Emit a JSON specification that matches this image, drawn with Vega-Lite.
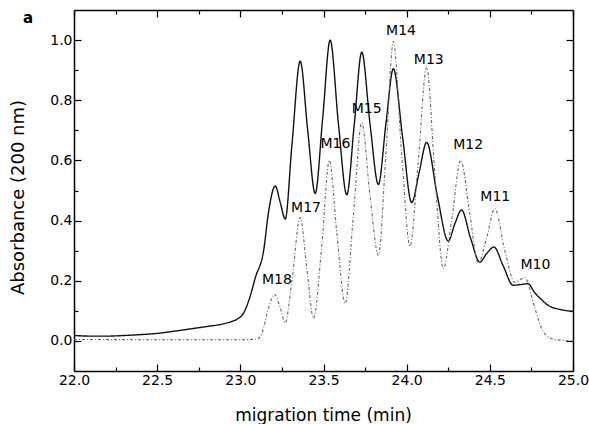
{
  "$schema": "https://vega.github.io/schema/vega-lite/v6.json",
  "width": 499,
  "height": 361,
  "autosize": {"type": "none"},
  "padding": {"left": 74, "top": 10, "right": 16, "bottom": 53},
  "background": "white",
  "title": {"text": "a", "anchor": "start", "frame": "group", "orient": "top", "offset": 0, "dx": -51, "dy": 29, "baseline": "alphabetic", "align": "left", "font": "DejaVu Sans", "fontSize": 15, "fontWeight": "bold", "color": "black"},
  "config": {
    "view": {"stroke": null},
    "axis": {"domainColor": "black", "domainWidth": 1.5, "tickColor": "black", "tickWidth": 1.2, "grid": false, "labelFont": "DejaVu Sans", "labelFontSize": 14, "labelColor": "black", "titleFont": "DejaVu Sans", "titleFontWeight": "normal", "titleColor": "black"}
  },
  "datasets": {
    "curves": [
      {"t": 22.0, "a": 0.018, "s": "solid"},
      {"t": 22.1, "a": 0.016, "s": "solid"},
      {"t": 22.2, "a": 0.016, "s": "solid"},
      {"t": 22.3, "a": 0.018, "s": "solid"},
      {"t": 22.4, "a": 0.021, "s": "solid"},
      {"t": 22.5, "a": 0.025, "s": "solid"},
      {"t": 22.6, "a": 0.032, "s": "solid"},
      {"t": 22.7, "a": 0.040, "s": "solid"},
      {"t": 22.8, "a": 0.048, "s": "solid"},
      {"t": 22.9, "a": 0.057, "s": "solid"},
      {"t": 22.95, "a": 0.065, "s": "solid"},
      {"t": 22.98, "a": 0.072, "s": "solid"},
      {"t": 23.02, "a": 0.093, "s": "solid"},
      {"t": 23.06, "a": 0.15, "s": "solid"},
      {"t": 23.09, "a": 0.21, "s": "solid"},
      {"t": 23.14, "a": 0.30, "s": "solid"},
      {"t": 23.17, "a": 0.43, "s": "solid"},
      {"t": 23.21, "a": 0.515, "s": "solid"},
      {"t": 23.24, "a": 0.46, "s": "solid"},
      {"t": 23.27, "a": 0.405, "s": "solid"},
      {"t": 23.31, "a": 0.65, "s": "solid"},
      {"t": 23.36, "a": 0.93, "s": "solid"},
      {"t": 23.405, "a": 0.70, "s": "solid"},
      {"t": 23.45, "a": 0.49, "s": "solid"},
      {"t": 23.495, "a": 0.74, "s": "solid"},
      {"t": 23.54, "a": 1.0, "s": "solid"},
      {"t": 23.59, "a": 0.72, "s": "solid"},
      {"t": 23.64, "a": 0.486, "s": "solid"},
      {"t": 23.685, "a": 0.72, "s": "solid"},
      {"t": 23.73, "a": 0.96, "s": "solid"},
      {"t": 23.78, "a": 0.72, "s": "solid"},
      {"t": 23.83, "a": 0.52, "s": "solid"},
      {"t": 23.875, "a": 0.72, "s": "solid"},
      {"t": 23.92, "a": 0.905, "s": "solid"},
      {"t": 23.975, "a": 0.68, "s": "solid"},
      {"t": 24.03, "a": 0.46, "s": "solid"},
      {"t": 24.075, "a": 0.56, "s": "solid"},
      {"t": 24.12, "a": 0.66, "s": "solid"},
      {"t": 24.185, "a": 0.48, "s": "solid"},
      {"t": 24.25, "a": 0.332, "s": "solid"},
      {"t": 24.29, "a": 0.39, "s": "solid"},
      {"t": 24.33, "a": 0.435, "s": "solid"},
      {"t": 24.385, "a": 0.34, "s": "solid"},
      {"t": 24.44, "a": 0.262, "s": "solid"},
      {"t": 24.48, "a": 0.29, "s": "solid"},
      {"t": 24.525, "a": 0.312, "s": "solid"},
      {"t": 24.58, "a": 0.25, "s": "solid"},
      {"t": 24.64, "a": 0.185, "s": "solid"},
      {"t": 24.68, "a": 0.187, "s": "solid"},
      {"t": 24.73, "a": 0.19, "s": "solid"},
      {"t": 24.77, "a": 0.16, "s": "solid"},
      {"t": 24.80, "a": 0.143, "s": "solid"},
      {"t": 24.86, "a": 0.115, "s": "solid"},
      {"t": 24.92, "a": 0.105, "s": "solid"},
      {"t": 25.0, "a": 0.098, "s": "solid"},
      {"t": 22.0, "a": 0.005, "s": "dotted"},
      {"t": 22.5, "a": 0.004, "s": "dotted"},
      {"t": 23.0, "a": 0.004, "s": "dotted"},
      {"t": 23.1, "a": 0.006, "s": "dotted"},
      {"t": 23.13, "a": 0.026, "s": "dotted"},
      {"t": 23.17, "a": 0.11, "s": "dotted"},
      {"t": 23.205, "a": 0.155, "s": "dotted"},
      {"t": 23.24, "a": 0.11, "s": "dotted"},
      {"t": 23.27, "a": 0.06, "s": "dotted"},
      {"t": 23.31, "a": 0.20, "s": "dotted"},
      {"t": 23.36, "a": 0.41, "s": "dotted"},
      {"t": 23.40, "a": 0.24, "s": "dotted"},
      {"t": 23.44, "a": 0.075, "s": "dotted"},
      {"t": 23.49, "a": 0.32, "s": "dotted"},
      {"t": 23.535, "a": 0.60, "s": "dotted"},
      {"t": 23.58, "a": 0.36, "s": "dotted"},
      {"t": 23.63, "a": 0.125, "s": "dotted"},
      {"t": 23.68, "a": 0.42, "s": "dotted"},
      {"t": 23.73, "a": 0.725, "s": "dotted"},
      {"t": 23.78, "a": 0.48, "s": "dotted"},
      {"t": 23.83, "a": 0.285, "s": "dotted"},
      {"t": 23.875, "a": 0.62, "s": "dotted"},
      {"t": 23.92, "a": 0.995, "s": "dotted"},
      {"t": 23.97, "a": 0.62, "s": "dotted"},
      {"t": 24.02, "a": 0.315, "s": "dotted"},
      {"t": 24.07, "a": 0.60, "s": "dotted"},
      {"t": 24.12, "a": 0.91, "s": "dotted"},
      {"t": 24.17, "a": 0.55, "s": "dotted"},
      {"t": 24.22, "a": 0.24, "s": "dotted"},
      {"t": 24.27, "a": 0.40, "s": "dotted"},
      {"t": 24.325, "a": 0.60, "s": "dotted"},
      {"t": 24.38, "a": 0.42, "s": "dotted"},
      {"t": 24.43, "a": 0.26, "s": "dotted"},
      {"t": 24.48, "a": 0.34, "s": "dotted"},
      {"t": 24.53, "a": 0.44, "s": "dotted"},
      {"t": 24.59, "a": 0.30, "s": "dotted"},
      {"t": 24.65, "a": 0.195, "s": "dotted"},
      {"t": 24.71, "a": 0.21, "s": "dotted"},
      {"t": 24.77, "a": 0.11, "s": "dotted"},
      {"t": 24.81, "a": 0.043, "s": "dotted"},
      {"t": 24.86, "a": 0.01, "s": "dotted"},
      {"t": 24.9, "a": 0.004, "s": "dotted"},
      {"t": 25.0, "a": 0.0, "s": "dotted"}
    ],
    "labels": [
      {"t": 23.22, "a": 0.204, "label": "M18"},
      {"t": 23.395, "a": 0.443, "label": "M17"},
      {"t": 23.572, "a": 0.655, "label": "M16"},
      {"t": 23.76, "a": 0.77, "label": "M15"},
      {"t": 23.966, "a": 1.031, "label": "M14"},
      {"t": 24.133, "a": 0.933, "label": "M13"},
      {"t": 24.37, "a": 0.65, "label": "M12"},
      {"t": 24.533, "a": 0.477, "label": "M11"},
      {"t": 24.774, "a": 0.251, "label": "M10"}
    ]
  },
  "layer": [
    {
      "data": {"name": "curves"},
      "mark": {"type": "line", "interpolate": "monotone", "clip": true},
      "encoding": {
        "x": {"field": "t", "type": "quantitative", "scale": {"domain": [22, 25], "nice": false, "zero": false},
          "axis": {"orient": "bottom", "title": "migration time (min)", "titleFontSize": 17, "titleX": 249, "titleY": 44, "titleBaseline": "middle", "titleAlign": "center",
            "values": [22, 22.25, 22.5, 22.75, 23, 23.25, 23.5, 23.75, 24, 24.25, 24.5, 24.75, 25],
            "labelExpr": "datum.value % 0.5 === 0 ? format(datum.value, '.1f') : ''",
            "tickSize": {"condition": {"test": "datum.value % 0.5 === 0", "value": -7}, "value": -4},
            "labelPadding": 9, "labelFlush": false, "labelOverlap": false}},
        "y": {"field": "a", "type": "quantitative", "scale": {"domain": [-0.1, 1.1], "nice": false, "zero": false},
          "axis": {"orient": "left", "title": "Absorbance (200 nm)", "titleFontSize": 18, "titleX": -56, "titleY": 187, "titleBaseline": "middle", "titleAlign": "center", "titleAngle": -90,
            "values": [0, 0.1, 0.2, 0.3, 0.4, 0.5, 0.6, 0.7, 0.8, 0.9, 1.0],
            "labelExpr": "round(datum.value * 10) % 2 === 0 ? format(datum.value, '.1f') : ''",
            "tickSize": {"condition": {"test": "round(datum.value * 10) % 2 === 0", "value": -7}, "value": -4},
            "labelPadding": 9, "labelFlush": false, "labelOverlap": false}},
        "color": {"field": "s", "type": "nominal", "scale": {"domain": ["solid", "dotted"], "range": ["#111111", "#666666"]}, "legend": null},
        "strokeDash": {"field": "s", "type": "nominal", "scale": {"domain": ["solid", "dotted"], "range": [[1, 0], [3, 2, 1, 2]]}, "legend": null},
        "strokeWidth": {"field": "s", "type": "nominal", "scale": {"domain": ["solid", "dotted"], "range": [1.4, 1.1]}, "legend": null}
      }
    },
    {
      "data": {"name": "labels"},
      "mark": {"type": "text", "font": "DejaVu Sans", "fontSize": 14, "color": "black", "align": "center", "baseline": "middle"},
      "encoding": {
        "x": {"field": "t", "type": "quantitative",
          "axis": {"orient": "top", "title": null, "labels": false,
            "values": [22, 22.25, 22.5, 22.75, 23, 23.25, 23.5, 23.75, 24, 24.25, 24.5, 24.75, 25],
            "tickSize": {"condition": {"test": "datum.value % 0.5 === 0", "value": -7}, "value": -4}}},
        "y": {"field": "a", "type": "quantitative",
          "axis": {"orient": "right", "title": null, "labels": false,
            "values": [0, 0.1, 0.2, 0.3, 0.4, 0.5, 0.6, 0.7, 0.8, 0.9, 1.0],
            "tickSize": {"condition": {"test": "round(datum.value * 10) % 2 === 0", "value": -7}, "value": -4}}},
        "text": {"field": "label", "type": "nominal"}
      }
    }
  ],
  "resolve": {"axis": {"x": "independent", "y": "independent"}}
}
